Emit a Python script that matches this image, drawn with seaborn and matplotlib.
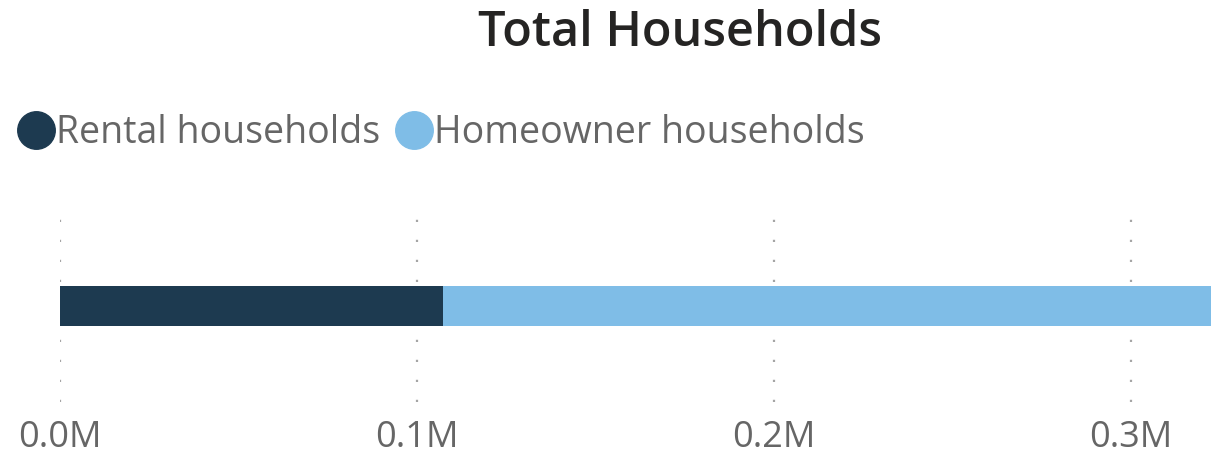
import matplotlib
matplotlib.use("Agg")
import matplotlib.pyplot as plt
from matplotlib.lines import Line2D
from matplotlib.ticker import FuncFormatter
import pandas as pd
import seaborn as sns

# Household counts
segments = ["Rental households", "Homeowner households"]
counts = [107300, 215100]
colors = ["#1D3A50", "#7FBDE7"]
ticks = [0, 100000, 200000, 300000]
title = "Total Households"

sns.set_theme(style="white")
plt.rcParams["font.family"] = ["Open Sans", "DejaVu Sans"]

fig = plt.figure(figsize=(12.11, 4.59), dpi=100)
ax = fig.add_axes([60 / 1211, 57 / 459, 1151 / 1211, 192 / 459])

# Stacked bar: cumulative ends, drawn from the outermost segment inward
cum = pd.Series(counts).cumsum().tolist()
df = pd.DataFrame({"segment": segments, "end": cum, "row": ["Total"] * len(segments)})
for i in reversed(range(len(segments))):
    sns.barplot(data=df.iloc[[i]], x="end", y="row", color=colors[i],
                width=0.208, saturation=1, linewidth=0, ax=ax, zorder=3)

ax.set_xlim(0, cum[-1])
ax.set_ylim(0.5, -0.5)
ax.set_xticks(ticks)
ax.xaxis.set_major_formatter(FuncFormatter(lambda v, p: f"{v / 1e6:.1f}M"))
ax.tick_params(axis="x", length=0, pad=13, labelsize=26, labelcolor="#666666")
ax.set_yticks([])
ax.set_xlabel("")
ax.set_ylabel("")
ax.grid(axis="x", linestyle=(0, (1, 8)), color="#A5A5A5", linewidth=1.6, zorder=0)
for s in ax.spines.values():
    s.set_visible(False)
for lbl in ax.get_xticklabels():
    lbl.set_clip_on(False)

fig.text(680 / 1211, 1 - 33 / 459, title, ha="center", va="center",
         fontsize=35, fontweight="semibold", color="#252423")

handles = [Line2D([], [], marker="o", linestyle="", markersize=27,
                  markerfacecolor=c, markeredgecolor=c) for c in colors]
fig.legend(handles, segments, loc="center left",
           bbox_to_anchor=(18 / 1211, 1 - 133 / 459), ncol=2, frameon=False,
           fontsize=27, labelcolor="#666666", handletextpad=0.05,
           columnspacing=0.45, handlelength=0.95, borderpad=0, borderaxespad=0)

fig.savefig("out.png", dpi=100)
